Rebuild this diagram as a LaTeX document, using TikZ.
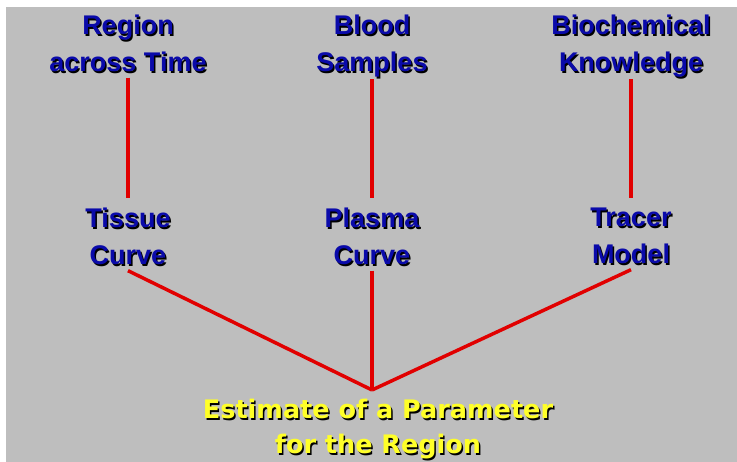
\documentclass[tikz,border=0pt]{standalone}
\usepackage{fontspec}
\newfontfamily\labfont{Liberation Sans}
\newfontfamily\estfont{DejaVu Sans}
\definecolor{bggray}{RGB}{190,190,190}
\definecolor{labblue}{RGB}{10,10,170}
\definecolor{linkred}{RGB}{225,0,0}
\definecolor{estyellow}{RGB}{255,255,40}
\newcommand\shd[1]{\makebox[0pt][l]{\hspace*{1.5pt}\raisebox{-1.5pt}{\color{black}#1}}#1}

\begin{document}
\begin{tikzpicture}[x=1pt,y=-1pt,
  lab/.style={align=center, inner sep=0pt, anchor=north, text=labblue,
    font=\labfont\bfseries\fontsize{27}{37}\selectfont,
    execute at begin node=\vphantom{Bd}, execute at end node=\vphantom{g}},
  est/.style={align=center, inner sep=0pt, anchor=north, text=estyellow,
    font=\estfont\bfseries\fontsize{25.5}{35}\selectfont},
  link/.style={draw=linkred, line width=3.5pt}]
\useasboundingbox (0,0) rectangle (737,462);
\fill[white] (0,0) rectangle (737,462);
\fill[bggray] (6,7) rectangle (737,462);
\node[lab] (region) at (128,15) {\shd{Region}\\\shd{across Time}};
\node[lab] (blood) at (372,15) {\shd{Blood}\\\shd{Samples}};
\node[lab] (biochem) at (631,15) {\shd{Biochemical}\\\shd{Knowledge}};
\node[lab] (tissue) at (128,208) {\shd{Tissue}\\\shd{Curve}};
\node[lab] (plasma) at (372,208) {\shd{Plasma}\\\shd{Curve}};
\node[lab] (tracer) at (631,208) {\shd{Tracer}\\\shd{Model}};
\node[est] (estimate) at (378,399) {\shd{Estimate of a Parameter}\\\shd{for the Region}};
\coordinate (meet) at (372,390);
\draw[link,shorten >=10pt] (region.south) -- (tissue.north);
\draw[link,shorten >=10pt] (blood.south) -- (plasma.north);
\draw[link,shorten >=10pt] (biochem.south) -- (tracer.north);
\draw[link] (tissue.south) -- (meet);
\draw[link] (plasma.south) -- (meet);
\draw[link] (tracer.south) -- (meet);
\end{tikzpicture}
\end{document}
